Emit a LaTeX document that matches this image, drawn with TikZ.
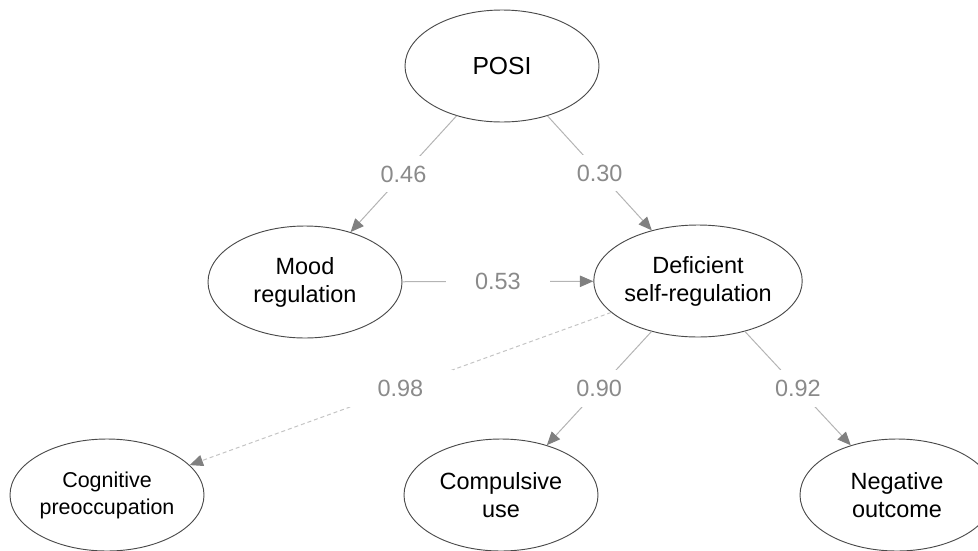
\documentclass[tikz,border=0pt]{standalone}
\usepackage{fontspec}
\setmainfont{Liberation Sans}
\usetikzlibrary{shapes.geometric,arrows.meta}
\definecolor{outl}{HTML}{4A4A4A}
\definecolor{edgec}{HTML}{B4B4B4}
\definecolor{dashc}{HTML}{C4C4C4}
\definecolor{tipc}{HTML}{808080}
\definecolor{lblc}{HTML}{8A8A8A}
\tikzset{
  latent/.style={draw=outl, line width=0.7pt, shape=ellipse, minimum width=145.5pt, minimum height=84pt, inner sep=0pt, align=center, font=\fontsize{17.6}{21}\selectfont, text=black},
  edgeline/.style={draw=edgec, line width=0.75pt, -{Triangle[length=10pt, width=8.5pt, color=tipc, fill=tipc]}},
  dashedge/.style={edgeline, draw=dashc, dash pattern=on 3pt off 2.2pt},
  lbl/.style={fill=white, text=lblc, inner xsep=22pt, inner ysep=7.5pt, font=\fontsize{17.6}{21}\selectfont}
}
\begin{document}
\begin{tikzpicture}[x=0.75pt, y=-0.75pt]
\useasboundingbox (0,0) rectangle (978,550);
\node[latent, font=\fontsize{18.5}{22}\selectfont] (posi) at (502,66) {POSI};
\node[latent] (mood) at (305,282) {Mood\\regulation};
\node[latent] (dsr) at (698,281) {Deficient\\self-regulation};
\node[latent, font=\fontsize{16.1}{20.3}\selectfont] (cog) at (107,495) {Cognitive\\preoccupation};
\node[latent] (comp) at (501,495) {Compulsive\\use};
\node[latent] (neg) at (897,495) {Negative\\outcome};

\draw[edgeline] (posi) -- node[lbl] {0.46} (mood);
\draw[edgeline] (posi) -- node[lbl] {0.30} (dsr);
\draw[edgeline] (mood) -- node[lbl] {0.53} (dsr);
\draw[dashedge] (dsr) -- node[lbl] {0.98} (cog);
\draw[edgeline] (dsr) -- node[lbl] {0.90} (comp);
\draw[edgeline] (dsr) -- node[lbl] {0.92} (neg);
\end{tikzpicture}
\end{document}
